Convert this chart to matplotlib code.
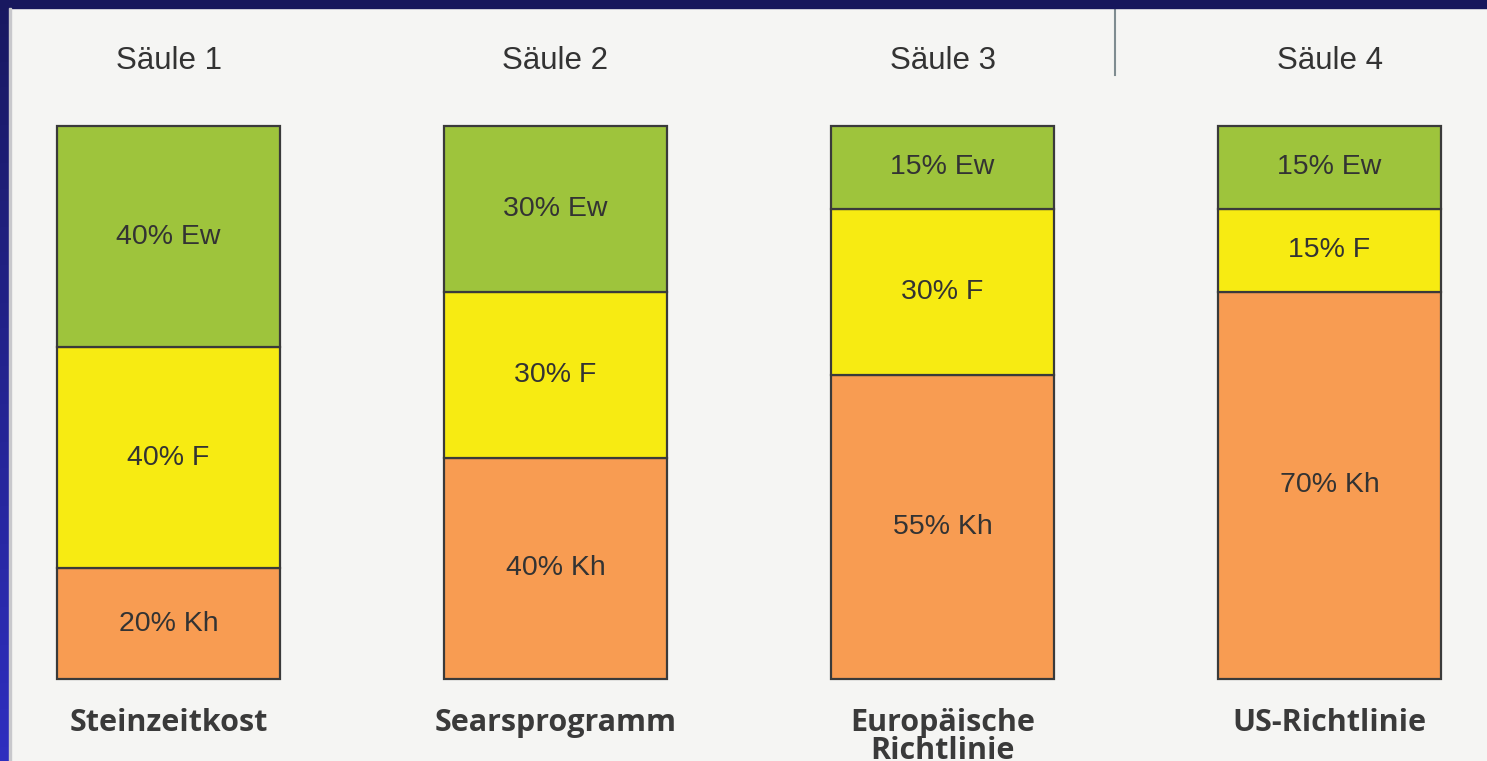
import numpy as np
import matplotlib
matplotlib.use("Agg")
import matplotlib.pyplot as plt
from matplotlib.patches import Rectangle

# Daten
titel = ["Säule 1", "Säule 2", "Säule 3", "Säule 4"]
namen = ["Steinzeitkost", "Searsprogramm", "Europäische\nRichtlinie", "US-Richtlinie"]
kh = [20, 40, 55, 70]
f = [40, 30, 30, 15]
ew = [40, 30, 15, 15]
kurz = ["Kh", "F", "Ew"]

farben = ["#f89c52", "#f7eb12", "#9ec43c"]
hg = "#f5f5f3"

fig = plt.figure(figsize=(14.87, 7.61), dpi=100, facecolor=hg)
ax = fig.add_axes([0, 0, 1, 1])
ax.set_facecolor(hg)

# Rand (Scan)
fig.patches.append(Rectangle((0, 1 - 8/761), 1, 8/761, transform=fig.transFigure,
                             color="#17175c", zorder=0))
n = 60
for i in range(n):
    c = np.array([0x18, 0x18, 0x60]) * (1 - i/n) + np.array([0x2e, 0x2e, 0xc0]) * (i/n)
    fig.patches.append(Rectangle((0, 1 - (i+1)/n), 9/1487, 1/n + 0.002,
                                 transform=fig.transFigure, color=c/255, zorder=0))
fig.patches.append(Rectangle((9/1487, 0), 2/1487, 1 - 8/761, transform=fig.transFigure,
                             color="#c8c8cc", zorder=0))

x = np.arange(len(titel))
breite = 0.576
unten = np.zeros(len(titel))
for werte, farbe, k in zip([kh, f, ew], farben, kurz):
    ax.bar(x, werte, breite, bottom=unten, color=farbe, edgecolor="#3a3a3a",
           linewidth=1.6, zorder=2)
    for xi, b, w in zip(x, unten, werte):
        ax.text(xi, b + w/2, f"{w}% {k}", ha="center", va="center",
                fontsize=20.5, color="#333333", family="Liberation Sans", zorder=3)
    unten = unten + np.array(werte)

for xi, t in zip(x, titel):
    ax.text(xi, 111.8, t, ha="center", va="center", fontsize=22.5,
            color="#333333", family="Liberation Sans")
for xi, nm in zip(x, namen):
    for j, zeile in enumerate(nm.split("\n")):
        ax.text(xi, -9.4 - j*5.06, zeile, ha="center", va="baseline", fontsize=22,
                fontweight="bold", color="#3a3a3a", family="Open Sans")

# Trennlinie oben
ax.plot([2.447, 2.447], [121.4, 109.2], color="#7f8c90", lw=1.5, clip_on=False)

ax.set_xlim(-168.5/387, (1487 - 168.5)/387)
ax.set_ylim(-82/553*100, (761 - 82)/553*100)
ax.axis("off")

fig.savefig("out.png", dpi=100, facecolor=hg)
